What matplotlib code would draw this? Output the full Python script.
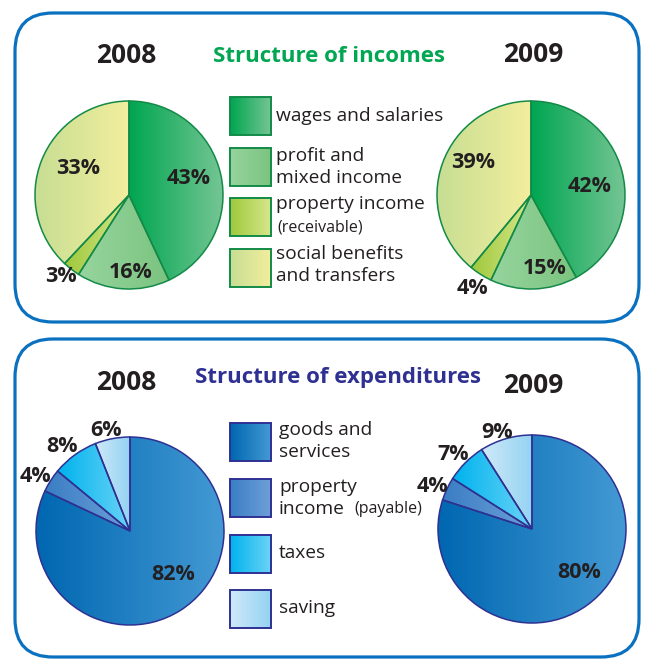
import matplotlib
matplotlib.use("Agg")
import numpy as np
import matplotlib.pyplot as plt
import matplotlib.patches as mpatches
from matplotlib.colors import LinearSegmentedColormap

# ====================================================================
# DATA
# ====================================================================
INCOME_CATS = ["wages and salaries", "profit and\nmixed income",
               "property income", "social benefits\nand transfers"]
# wedge sizes as drawn (the 2008 "social" wedge is drawn larger than its label)
INCOME_2008 = [43, 16, 3, 38]
INCOME_2009 = [42, 15, 4, 39]
INCOME_LABELS_2008 = ["43%", "16%", "3%", "33%"]
INCOME_LABELS_2009 = ["42%", "15%", "4%", "39%"]

EXPEND_CATS = ["goods and\nservices", "property\nincome", "taxes", "saving"]
EXPEND_2008 = [82, 4, 8, 6]
EXPEND_2009 = [80, 4, 7, 9]
EXPEND_LABELS_2008 = ["82%", "4%", "8%", "6%"]
EXPEND_LABELS_2009 = ["80%", "4%", "7%", "9%"]

YEARS = ["2008", "2009"]

# ====================================================================
# STYLE
# ====================================================================
W, H = 647, 659
INCOME_GRAD = [("#00a651", "#74c593"), ("#96d49e", "#7bc47f"),
               ("#9fc93c", "#d6e68a"), ("#c7de93", "#f2ee9d")]
EXPEND_GRAD = [("#0067b1", "#4399d3"), ("#3a7ec4", "#6d9fd8"),
               ("#00b3ee", "#6ad3f6"), ("#cfe9f9", "#94d3f2")]
INCOME_EDGE = "#138a48"
EXPEND_EDGE = "#2e3192"
FRAME = "#0a71c0"
TXT = "#231f20"
SANS = ["Open Sans", "DejaVu Sans"]
LEG_FS = 13.8


def Y(y):
    return H - y


def grad_fill(ax, patch, bbox, c0, c1):
    cmap = LinearSegmentedColormap.from_list("g", [c0, c1])
    x0, y0, x1, y1 = bbox
    im = ax.imshow(np.linspace(0, 1, 64).reshape(1, -1), cmap=cmap,
                   extent=(x0, x1, y0, y1), aspect="auto",
                   interpolation="bilinear", zorder=1)
    im.set_clip_path(patch)


def draw_pie(ax, values, labels, label_pos, cx, cy, r, grads, edge):
    wedges, _ = ax.pie(values, center=(cx, Y(cy)), radius=r, startangle=90,
                       counterclock=False, normalize=True,
                       wedgeprops=dict(edgecolor=edge, linewidth=1.1))
    for w, (c0, c1) in zip(wedges, grads):
        ext = w.get_path().get_extents()
        grad_fill(ax, w, (ext.x0, ext.y0, ext.x1, ext.y1), c0, c1)
        w.set_facecolor("none")
        w.set_zorder(2)
    for lab, (lx, ly) in zip(labels, label_pos):
        ax.text(lx, Y(ly), lab, ha="center", va="center", fontsize=15.5,
                fontweight="bold", family=SANS, color=TXT, zorder=4)


def legend_box(ax, x, y, c0, c1, edge):
    rect = mpatches.Rectangle((x, Y(y + 38)), 41, 38, facecolor="none",
                              edgecolor=edge, linewidth=1.4, zorder=3)
    ax.add_patch(rect)
    grad_fill(ax, rect, (x, Y(y + 38), x + 41, Y(y)), c0, c1)


fig = plt.figure(figsize=(W / 100, H / 100), dpi=100)
ax = fig.add_axes([0, 0, 1, 1])

# --- frames ----------------------------------------------------------
for top, bot in [(13, 322), (339, 657)]:
    ax.add_patch(mpatches.FancyBboxPatch(
        (15 + 38, Y(bot) + 38), 624 - 76, (bot - top) - 76,
        boxstyle="round,pad=38", facecolor="none", edgecolor=FRAME,
        linewidth=2.3, zorder=0))

# --- titles ----------------------------------------------------------
ax.text(126, Y(63), YEARS[0], ha="center", va="baseline", fontsize=19,
        fontweight="bold", family=SANS, color=TXT)
ax.text(533, Y(62), YEARS[1], ha="center", va="baseline", fontsize=19,
        fontweight="bold", family=SANS, color=TXT)
ax.text(329, Y(62), "Structure of incomes", ha="center", va="baseline",
        fontsize=16, fontweight="bold", family=SANS, color="#00a651")

ax.text(126, Y(390), YEARS[0], ha="center", va="baseline", fontsize=19,
        fontweight="bold", family=SANS, color=TXT)
ax.text(533, Y(393), YEARS[1], ha="center", va="baseline", fontsize=19,
        fontweight="bold", family=SANS, color=TXT)
ax.text(338, Y(383), "Structure of expenditures", ha="center",
        va="baseline", fontsize=16, fontweight="bold", family=SANS,
        color="#2e3192")

# --- pies ------------------------------------------------------------
draw_pie(ax, INCOME_2008, INCOME_LABELS_2008,
         [(189, 178), (131, 272), (61, 276), (78, 169)],
         129, 195, 94, INCOME_GRAD, INCOME_EDGE)
draw_pie(ax, INCOME_2009, INCOME_LABELS_2009,
         [(590, 187), (545, 268), (472, 288), (473, 162)],
         531, 195, 94, INCOME_GRAD, INCOME_EDGE)
draw_pie(ax, EXPEND_2008, EXPEND_LABELS_2008,
         [(173, 575), (35, 476), (62, 447), (106, 430)],
         130, 531, 94, EXPEND_GRAD, EXPEND_EDGE)
draw_pie(ax, EXPEND_2009, EXPEND_LABELS_2009,
         [(579, 572), (432, 487), (453, 455), (497, 432)],
         532, 529, 94, EXPEND_GRAD, EXPEND_EDGE)

# --- legends ---------------------------------------------------------
inc_box_y = [97, 148, 198, 249]
for (c0, c1), by in zip(INCOME_GRAD, inc_box_y):
    legend_box(ax, 230, by, c0, c1, INCOME_EDGE)
inc_text_y = [116, 167, 204, 265]
for cat, ty in zip(INCOME_CATS, inc_text_y):
    ax.text(276, Y(ty), cat, ha="left", va="center", fontsize=LEG_FS,
            family=SANS, color=TXT, linespacing=1.22)
ax.text(277, Y(227), "(receivable)", ha="left", va="center", fontsize=11.5,
        family=SANS, color=TXT)

exp_box_y = [423, 479, 535, 590]
for (c0, c1), by in zip(EXPEND_GRAD, exp_box_y):
    legend_box(ax, 230, by, c0, c1, EXPEND_EDGE)
exp_text_y = [441, 498, 553, 608]
for cat, ty in zip(EXPEND_CATS, exp_text_y):
    ax.text(279, Y(ty), cat, ha="left", va="center", fontsize=LEG_FS,
            family=SANS, color=TXT, linespacing=1.22)
ax.text(354, Y(509), "(payable)", ha="left", va="center", fontsize=11.5,
        family=SANS, color=TXT)

ax.set_xlim(0, W)
ax.set_ylim(0, H)
ax.set_aspect("equal")
ax.axis("off")

fig.savefig("out.png", dpi=100)
